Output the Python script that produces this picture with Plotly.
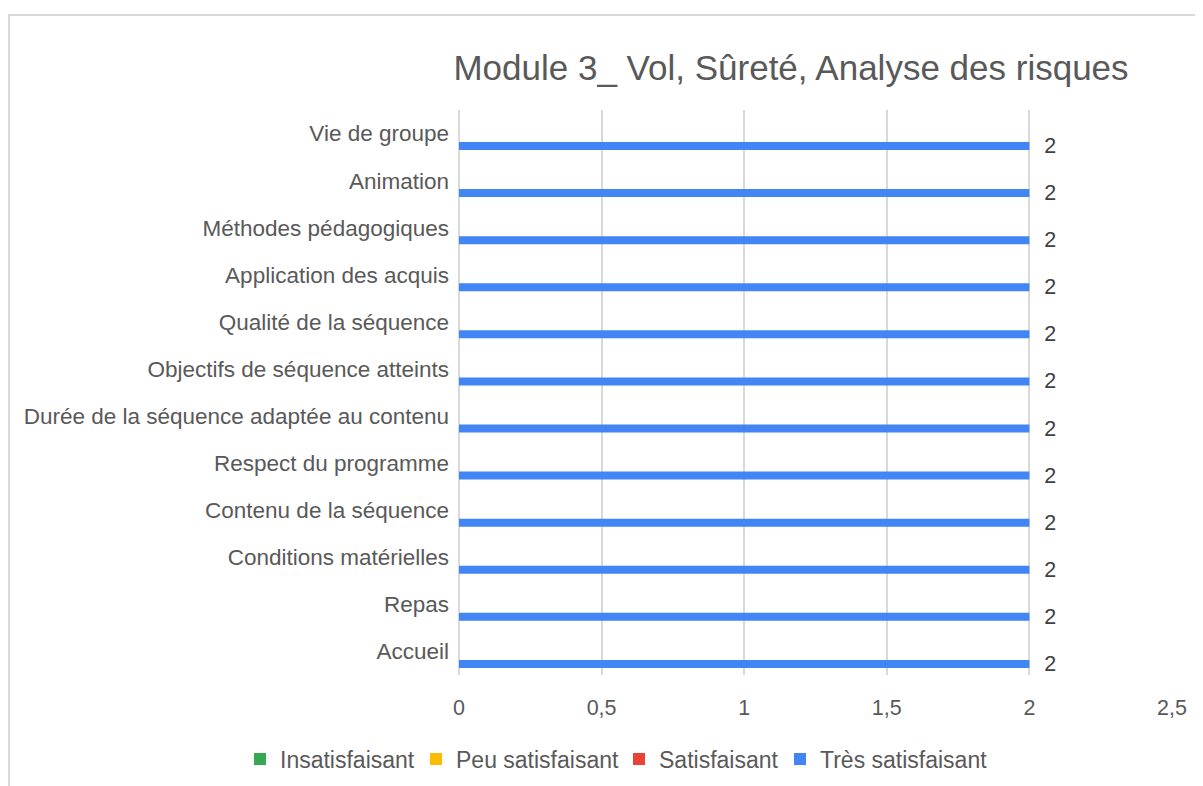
import plotly.graph_objects as go

categories = [
    "Vie de groupe",
    "Animation",
    "Méthodes pédagogiques",
    "Application des acquis",
    "Qualité de la séquence",
    "Objectifs de séquence atteints",
    "Durée de la séquence adaptée au contenu",
    "Respect du programme",
    "Contenu de la séquence",
    "Conditions matérielles",
    "Repas",
    "Accueil",
]
series_names = ["Insatisfaisant", "Peu satisfaisant", "Satisfaisant", "Très satisfaisant"]
insatisfaisant = [None] * 12
peu_satisfaisant = [None] * 12
satisfaisant = [None] * 12
tres_satisfaisant = [2, 2, 2, 2, 2, 2, 2, 2, 2, 2, 2, 2]
x_tickvals = [0, 0.5, 1, 1.5, 2, 2.5]
x_ticktext = ["0", "0,5", "1", "1,5", "2", "2,5"]

colors = ["#34A853", "#FBBC04", "#EA4335", "#4285F4"]
FONT = "Liberation Sans, Arial, sans-serif"
GRAY = "#595959"

# page offset (body margin) is 8px; plot area in page coords: x 459..1172, y 110..675
OFF = 8
PL, PR, PT, PB = 459 - OFF, 1172 - OFF, 110 - OFF, 675 - OFF
W, H = 1203, 786
PW, PH = PR - PL, PB - PT

legend_ids = ["legend", "legend2", "legend3", "legend4"]
legend_square_px = [258, 434, 637, 798]   # page x of each legend swatch

fig = go.Figure()
for name, vals, col, lid in zip(series_names,
                                [insatisfaisant, peu_satisfaisant, satisfaisant, tres_satisfaisant],
                                colors, legend_ids):
    show_text = name == "Très satisfaisant"
    fig.add_trace(go.Bar(
        y=categories, x=vals, name=name, orientation="h",
        marker=dict(color=col, line=dict(width=0)),
        width=0.17, offset=0.18,
        text=[("\u00a0\u00a0" + str(v)) if (show_text and v is not None) else "" for v in vals],
        textposition="outside", cliponaxis=False, constraintext="none",
        textfont=dict(family=FONT, size=21.5, color="#404040"),
        hoverinfo="x+y+name", legend=lid, showlegend=True,
    ))

legends = {}
for lid, sx in zip(legend_ids, legend_square_px):
    legends[lid] = dict(orientation="h", xref="container", yref="paper",
                        x=(sx - OFF - 14 - 4) / W, xanchor="left",
                        y=(675 - 759) / PH, yanchor="middle",
                        font=dict(family=FONT, size=23, color=GRAY),
                        itemwidth=30, bgcolor="rgba(0,0,0,0)")

fig.update_layout(
    width=W, height=H,
    barmode="overlay",
    paper_bgcolor="white", plot_bgcolor="white",
    margin=dict(l=PL, r=W - PR, t=PT, b=H - PB, autoexpand=False),
    font=dict(family=FONT, size=21, color=GRAY),
    title=dict(text="Module 3_ Vol, Sûreté, Analyse des risques",
               x=(791 - OFF) / W, xanchor="center", xref="container",
               y=1 - (68 - OFF) / H, yanchor="middle", yref="container",
               font=dict(family=FONT, size=35, color=GRAY)),
    xaxis=dict(range=[0, 2.5], tickvals=x_tickvals, ticktext=x_ticktext,
               showgrid=True, gridcolor="#d9d9d9", gridwidth=1.5,
               zeroline=True, zerolinecolor="#d9d9d9", zerolinewidth=1.5,
               showline=False, ticks="", ticklabelstandoff=17,
               tickfont=dict(family=FONT, size=21.5, color=GRAY), fixedrange=True),
    yaxis=dict(range=[11.5, -0.5], type="category",
               showgrid=False, zeroline=False, showline=False, ticks="",
               ticklabelstandoff=9,
               tickfont=dict(family=FONT, size=22.5, color=GRAY), fixedrange=True),
    shapes=[dict(type="rect", xref="paper", yref="paper",
                 x0=(9 - 459) / PW, x1=1.2, y0=-0.4, y1=(675 - 15) / PH,
                 line=dict(color="#d9d9d9", width=2), fillcolor="rgba(0,0,0,0)",
                 layer="below")],
    **legends,
)

fig.write_html("out.html")
